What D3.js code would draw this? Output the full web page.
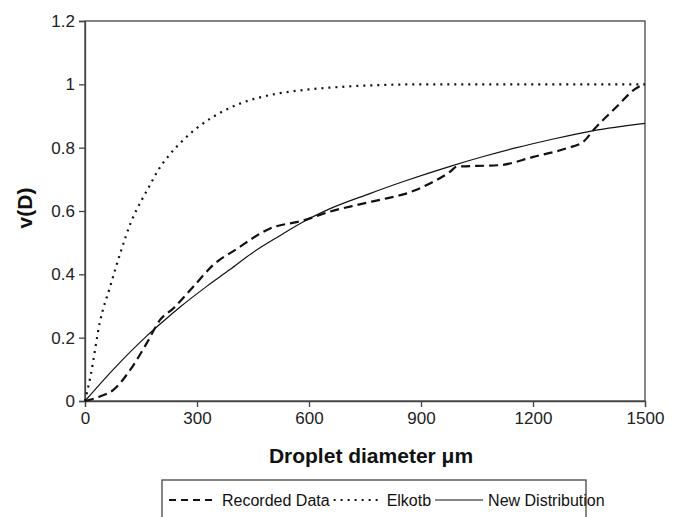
<!DOCTYPE html>
<html><head><meta charset="utf-8">
<script src="https://cdn.jsdelivr.net/npm/d3@7"></script>
<style>
body{margin:0;background:#fff;}
svg{display:block;font-family:"Liberation Sans",Arial,sans-serif;}
</style></head>
<body><svg id="c" width="682" height="517"></svg>
<script>
// Data
const recordedD = [0,40,76,121,165,201,237,290,344,406,496,585,656,728,808,860,924,978,996,1112,1201,1290,1335,1362,1424,1473,1495];
const recordedV = [0,0.014,0.035,0.098,0.182,0.256,0.293,0.361,0.43,0.48,0.545,0.57,0.598,0.619,0.64,0.655,0.687,0.724,0.74,0.745,0.771,0.798,0.819,0.856,0.929,0.985,1.0];
const elkotbD = [0,15,40,67,94,125,152,174,196,226,263,304,344,406,469,522,600,700,800,900,1000,1200,1500];
const elkotbV = [0,0.08,0.25,0.36,0.465,0.57,0.635,0.682,0.729,0.777,0.824,0.866,0.898,0.935,0.959,0.972,0.984,0.993,0.998,1.0,1.0,1.0,1.0];
const newD = [0,76,165,210,254,326,388,451,522,585,652,763,853,978,1067,1156,1246,1362,1500];
const newV = [0,0.1,0.205,0.252,0.296,0.362,0.415,0.47,0.522,0.566,0.605,0.655,0.693,0.741,0.772,0.8,0.825,0.854,0.877];
const xTicks = [0,300,600,900,1200,1500];
const yTicks = [0,0.2,0.4,0.6,0.8,1,1.2];
const seriesNames = ["Recorded Data","Elkotb","New Distribution"];

const svg = d3.select("#c");
const L=85, R=645, T=21, B=401;
const x = d3.scaleLinear().domain([0,1500]).range([L,R]);
const y = d3.scaleLinear().domain([0,1.2]).range([B,T]);
const axisCol = "#444";

// frame
svg.append("rect").attr("x",L).attr("y",T).attr("width",R-L).attr("height",B-T)
  .attr("fill","none").attr("stroke",axisCol).attr("stroke-width",1.3);

// axes
const xa = svg.append("g").attr("transform",`translate(0,${B})`)
  .call(d3.axisBottom(x).tickValues(xTicks).tickSize(6).tickPadding(5).tickFormat(d3.format("d")));
const ya = svg.append("g").attr("transform",`translate(${L},0)`)
  .call(d3.axisLeft(y).tickValues(yTicks).tickSize(6).tickPadding(4).tickFormat(d=>String(+d.toFixed(1))));
[xa,ya].forEach(g=>{
  g.select(".domain").attr("stroke",axisCol).attr("stroke-width",1.3);
  g.selectAll(".tick line").attr("stroke",axisCol).attr("stroke-width",1.3);
  g.selectAll(".tick text").attr("font-size",17).attr("fill","#222").attr("font-family","Liberation Sans, Arial, sans-serif");
});

// titles
svg.append("text").attr("x",371).attr("y",463).attr("text-anchor","middle")
  .attr("font-size",21).attr("font-weight","bold").attr("fill","#111").text("Droplet diameter μm");
svg.append("text").attr("transform","translate(32,208) rotate(-90)").attr("text-anchor","middle")
  .attr("font-size",21).attr("font-weight","bold").attr("fill","#111").text("v(D)");

// lines
const line = d3.line().x(d=>x(d[0])).y(d=>y(d[1])).curve(d3.curveMonotoneX);
const styles = [
  {dash:"9,5", w:2.2},
  {dash:"2,5", w:2.2},
  {dash:null, w:1.2}
];
const series = [
  d3.zip(recordedD, recordedV),
  d3.zip(elkotbD, elkotbV),
  d3.zip(newD, newV)
];
series.forEach((s,i)=>{
  const p = svg.append("path").datum(s).attr("d",line).attr("fill","none")
    .attr("stroke","#111").attr("stroke-width",styles[i].w);
  if(styles[i].dash) p.attr("stroke-dasharray",styles[i].dash);
});

// legend
const lg = svg.append("g");
lg.append("rect").attr("x",162).attr("y",480).attr("width",424).attr("height",50)
  .attr("fill","#fff").attr("stroke",axisCol).attr("stroke-width",1.3);
let cx = 169;
const ly = 500;
seriesNames.forEach((name,i)=>{
  const sl = lg.append("line").attr("x1",cx).attr("x2",cx+48).attr("y1",ly).attr("y2",ly)
    .attr("stroke","#111").attr("stroke-width",styles[i].w===1.2?1.2:1.8);
  if(styles[i].dash) sl.attr("stroke-dasharray", i===0?"7,5":"2,5");
  cx += 53;
  const t = lg.append("text").attr("x",cx).attr("y",ly+6).attr("font-size",16).attr("fill","#111").text(name);
  cx += t.node().getComputedTextLength() + 4;
});
</script></body></html>
